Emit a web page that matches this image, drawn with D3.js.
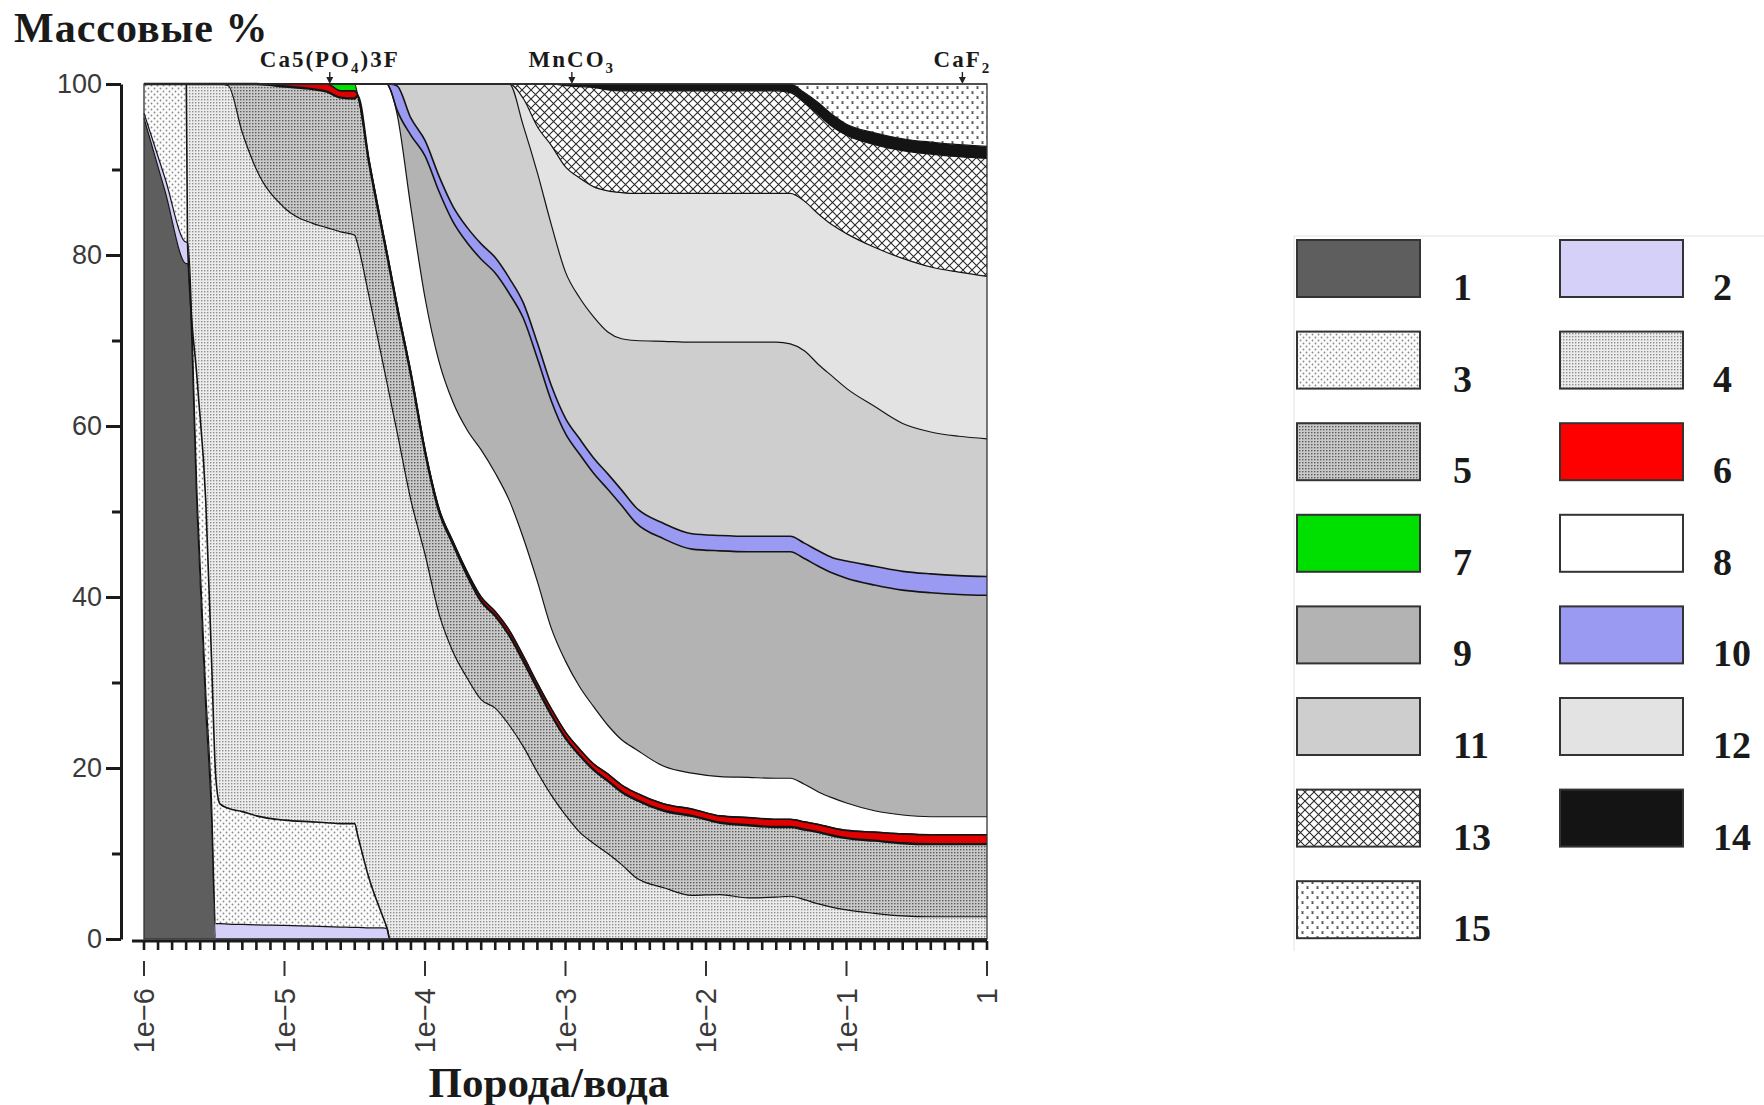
<!DOCTYPE html>
<html><head><meta charset="utf-8">
<script src="https://cdn.jsdelivr.net/npm/d3@7"></script>
<style>body{margin:0;background:#fff}svg{display:block}</style>
</head><body>
<svg id="chart" width="1764" height="1105"></svg>
<script>
// Rock/water ratio (x) sample points
const ratios = [1e-6,1.41e-6,2.0e-6,2.04e-6,2.4e-6,2.75e-6,3.02e-6,3.24e-6,3.47e-6,3.98e-6,
  5.01e-6,6.31e-6,1e-5,1.58e-5,2.0e-5,2.51e-5,3.16e-5,3.31e-5,3.98e-5,5.01e-5,
  5.37e-5,5.62e-5,6.31e-5,7.94e-5,1e-4,1.26e-4,1.58e-4,2.0e-4,2.51e-4,3.16e-4,
  3.98e-4,5.01e-4,6.31e-4,7.94e-4,1e-3,1.26e-3,1.58e-3,2.0e-3,2.51e-3,3.16e-3,
  5.01e-3,7.94e-3,1.26e-2,2.0e-2,3.16e-2,3.98e-2,5.01e-2,6.31e-2,7.94e-2,0.1,
  0.158,0.251,0.398,0.631,1];

// Mass % of each phase (1..15)
const s1 = [96,87.5,79,79,49,27,14.5,0,0,0, 0,0,0,0,0,0,0,0,0,0, 0,0,0,0,0,0,0,0,0,0, 0,0,0,0,0,0,0,0,0,0, 0,0,0,0,0,0,0,0,0,0, 0,0,0,0,0];
const s2 = [0.6,1.5,2.5,2.5,2,2,2,1.8,1.8,1.75, 1.7,1.65,1.6,1.5,1.45,1.4,1.35,1.35,1.3,1.3, 1.25,0,0,0,0,0,0,0,0,0, 0,0,0,0,0,0,0,0,0,0, 0,0,0,0,0,0,0,0,0,0, 0,0,0,0,0];
const s3 = [3.4,11,18.5,0,14,22.3,16.5,17.2,14,13.55, 13.2,12.75,12.3,12.2,12.15,12.1,12.15,10.85,5.9,1.3, 0,0,0,0,0,0,0,0,0,0, 0,0,0,0,0,0,0,0,0,0, 0,0,0,0,0,0,0,0,0,0, 0,0,0,0,0];
const s4 = [0,0,0,18.5,35,48.7,67,81,84.2,84.5, 79.4,75.6,71.6,70,69.6,69.2,68.8,69.1,68.1,64.8, 63.75,63.4,59.4,51.3,45,38,33.6,30.5,28,27, 25,22.5,19.5,16.8,14.5,12.5,11.2,10,8.7,7.2, 6,5.1,5.2,4.8,4.9,5.0,4.6,4.1,3.7,3.4, 3.0,2.7,2.6,2.6,2.6];
const s5 = [0,0,0,0,0,0,0,0,0,0.2, 5.7,10,14.2,15.7,15.9,15.7,16,17.3,15.7,15.1, 15,14.9,14.6,14.7,12,12,12.6,12,11.5,10.8, 10.5,10,9.8,9.4,9,9,8.6,8.5,8.5,9.1, 9,9.3,8.4,8.5,8.2,8.1,8.2,8.4,8.4,8.4, 8.5,8.5,8.5,8.5,8.5];
const s6 = [0,0,0,0,0,0,0,0,0,0, 0,0,0.3,0.6,0.9,0.8,0.9,0.2,0.2,0.2, 0.2,0.2,0.2,0.2,0.2,0.3,0.3,0.4,0.5,0.5, 0.6,0.6,0.6,0.7,0.7,0.7,0.7,0.8,0.8,0.8, 0.8,0.8,0.8,0.9,0.9,0.9,0.9,0.9,0.9,0.9, 1.0,1.1,1.1,1.1,1.1];
const s7 = [0,0,0,0,0,0,0,0,0,0, 0,0,0,0,0,0.8,0.8,0,0,0, 0,0,0,0,0,0,0,0,0,0, 0,0,0,0,0,0,0,0,0,0, 0,0,0,0,0,0,0,0,0,0, 0,0,0,0,0];
const s8 = [0,0,0,0,0,0,0,0,0,0, 0,0,0,0,0,0,0,1.2,8.8,17.3, 19.8,21,22.4,19.3,17.8,17.2,16.3,16.6,17.2,16.2, 15.2,13.8,11.9,9.4,8.3,7.3,6.7,5.7,5.3,5.1, 4.4,4.2,4.6,4.7,4.8,4.8,4.4,3.8,3.5,3.2, 2.5,2.2,2.1,2.1,2.1];
const s9 = [0,0,0,0,0,0,0,0,0,0, 0,0,0,0,0,0,0,0,0,0, 0,0,0.4,8.5,16.6,19.9,21.1,21.9,22.3,23.4, 24.2,25.7,26.1,26.6,26.6,27.2,27.3,27.6,27.4,26.5, 26.6,26.2,26.4,26.4,26.5,26.5,26.4,26.4,26.3,26.3, 26.4,26.3,26.2,26.0,25.9];
const s10 = [0,0,0,0,0,0,0,0,0,0, 0,0,0,0,0,0,0,0,0,0, 0,0.5,2.8,2,1.8,1.8,1.8,1.8,1.8,1.8, 1.8,1.8,1.8,1.8,1.8,1.8,1.8,1.8,1.8,1.8, 1.8,1.8,1.8,1.8,1.8,1.8,1.8,1.8,1.8,2.0, 2.2,2.2,2.2,2.2,2.2];
const s11 = [0,0,0,0,0,0,0,0,0,0, 0,0,0,0,0,0,0,0,0,0, 0,0,0.2,4,6.6,10.8,14.3,16.8,18.7,20.3, 22.7,20.7,19.9,18.8,17.1,16.5,16.5,16.6,17.7,19.5, 21.3,22.4,22.6,22.7,22.7,22.5,22.5,21.8,21.2,20.2, 18.7,17.3,16.6,16.3,16.1];
const s12 = [0,0,0,0,0,0,0,0,0,0, 0,0,0,0,0,0,0,0,0,0, 0,0,0,0,0,0,0,0,0,0, 0,3.2,5.4,9.3,12.3,14,15.2,16.5,17.1,17.2, 17.3,17.4,17.4,17.4,17.4,17.6,17.5,17.6,17.7,18.1, 18.6,19.3,19.3,19.2,19.0];
const s13 = [0,0,0,0,0,0,0,0,0,0, 0,0,0,0,0,0,0,0,0,0, 0,0,0,0,0,0,0,0,0,0, 0,1.7,5,7.2,9.5,10.7,11.6,11.8,11.9,12.0, 12.0,12.0,12.0,12.0,12.0,11.8,11.5,11.6,11.5,11.5, 12.0,12.6,13.2,13.5,13.8];
const s14 = [0,0,0,0,0,0,0,0,0,0, 0,0,0,0,0,0,0,0,0,0, 0,0,0,0,0,0,0,0,0,0, 0,0,0,0,0.2,0.3,0.4,0.7,0.8,0.8, 0.8,0.8,0.8,0.8,0.8,1.0,1.2,1.4,1.4,1.3, 1.4,1.4,1.4,1.4,1.4];
const s15 = [0,0,0,0,0,0,0,0,0,0, 0,0,0,0,0,0,0,0,0,0, 0,0,0,0,0,0,0,0,0,0, 0,0,0,0,0,0,0,0,0,0, 0,0,0,0,0,0,1.0,2.2,3.6,4.7, 5.7,6.4,6.8,7.1,7.3];

const seriesNames = ["1","2","3","4","5","6","7","8","9","10","11","12","13","14","15"];
const seriesValues = [s1,s2,s3,s4,s5,s6,s7,s8,s9,s10,s11,s12,s13,s14,s15];

const yTicksMajor = [0,20,40,60,80,100];
const yTicksMinor = [10,30,50,70,90];
const xTickValues = [1e-6,1e-5,1e-4,1e-3,1e-2,1e-1,1];
const xTickLabels = ["1e\u22126","1e\u22125","1e\u22124","1e\u22123","1e\u22122","1e\u22121","1"];

const annotParts = [
  [["Ca5(PO",false],["4",true],[")3F",false]],
  [["MnCO",false],["3",true]],
  [["CaF",false],["2",true]]
];
const annotAt = [2.1e-5, 1.11e-3, 0.668];

const yTitle = "Массовые %";
const xTitle = "Порода/вода";

// ---------------------------------------------------------------
const svg = d3.select("#chart");
const x = d3.scaleLog().domain([1e-6, 1]).range([144, 987]);
const y = d3.scaleLinear().domain([0, 100]).range([939, 84]);

const defs = svg.append("defs");
function dots(id, size, r, bg, col, stagger) {
  const p = defs.append("pattern").attr("id", id).attr("patternUnits","userSpaceOnUse")
    .attr("width", size).attr("height", size);
  p.append("rect").attr("width", size).attr("height", size).attr("fill", bg);
  p.append("circle").attr("cx", size/4).attr("cy", size/4).attr("r", r).attr("fill", col);
  if (stagger) p.append("circle").attr("cx", size*3/4).attr("cy", size*3/4).attr("r", r).attr("fill", col);
}
dots("p3", 6, 0.9, "#fcfcfc", "#8a8a8a", true);
dots("p4", 3, 0.75, "#ececec", "#7a7a7a", false);
dots("p5", 3, 0.8, "#c9c9c9", "#555", false);
{
  const p = defs.append("pattern").attr("id","p13").attr("patternUnits","userSpaceOnUse")
    .attr("width", 9).attr("height", 9);
  p.append("rect").attr("width",9).attr("height",9).attr("fill","#fff");
  p.append("path").attr("d","M0,0L9,9M9,0L0,9").attr("stroke","#2a2a2a")
    .attr("stroke-width",1.1).attr("stroke-linecap","square");
}
{
  const p = defs.append("pattern").attr("id","p15").attr("patternUnits","userSpaceOnUse")
    .attr("width", 10).attr("height", 10);
  p.append("rect").attr("width",10).attr("height",10).attr("fill","#fff");
  p.append("path").attr("d","M1.5,1.5L3.5,3.5M3.5,1.5L1.5,3.5M6.5,6.5L8.5,8.5M8.5,6.5L6.5,8.5")
    .attr("stroke","#555").attr("stroke-width",1.1);
}
const fills = ["#5e5e5e","#d4d0f8","url(#p3)","url(#p4)","url(#p5)","#e00000","#00e000",
  "#ffffff","#b3b3b3","#9a9af2","#cecece","#e3e3e3","url(#p13)","#141414","url(#p15)"];
const legendFills = fills.slice(); legendFills[5] = "#ff0000";

const rows = ratios.map((r, i) => {
  const o = { ratio: r };
  seriesNames.forEach((k, j) => o[k] = seriesValues[j][i]);
  return o;
});
const stack = d3.stack().keys(seriesNames);
const layers = stack(rows);

const area = d3.area().curve(d3.curveMonotoneX)
  .x(d => x(d.data.ratio)).y0(d => y(d[0])).y1(d => y(d[1]));
const topLine = d3.line().curve(d3.curveMonotoneX)
  .x(d => x(d.data.ratio)).y(d => y(d[1]));

const g = svg.append("g");
g.selectAll("path.area").data(layers).join("path").attr("class","area")
  .attr("d", area).attr("fill", (d, i) => fills[i]);
const lineW = [1.2,1.2,1.6,1.2,2.4,1.6,1.2,1.2,1.6,1.6,1.2,1.2,1.2,1.2,1.2];
g.selectAll("path.bnd").data(layers).join("path").attr("class","bnd")
  .attr("d", topLine).attr("fill","none").attr("stroke","#141414")
  .attr("stroke-width", (d, i) => lineW[i]).attr("stroke-linejoin","round");

// frame
svg.append("rect").attr("x", x(1e-6)).attr("y", y(100))
  .attr("width", x(1) - x(1e-6)).attr("height", y(0) - y(100))
  .attr("fill","none").attr("stroke","#333").attr("stroke-width",1.3);

// Y axis
const yAxisG = svg.append("g").attr("transform","translate(121,0)")
  .call(d3.axisLeft(y).tickValues(yTicksMajor).tickSize(15).tickSizeOuter(0).tickPadding(4));
svg.append("g").attr("transform","translate(121,0)")
  .call(d3.axisLeft(y).tickValues(yTicksMinor).tickSize(9).tickSizeOuter(0).tickFormat(""))
  .select(".domain").remove();
svg.selectAll(".tick line").attr("stroke","#1a1a1a").attr("stroke-width",3);
yAxisG.select(".domain").attr("stroke","#1a1a1a").attr("stroke-width",3);
yAxisG.selectAll(".tick text").attr("font-family","Liberation Sans, Arial, sans-serif")
  .attr("font-size",27).attr("fill","#3a3a3a");

// X axis
const xa = svg.append("g");
xa.append("line").attr("x1", x(1e-6) - 12).attr("x2", x(1)).attr("y1", 941).attr("y2", 941)
  .attr("stroke","#1a1a1a").attr("stroke-width",3);
const minorX = d3.range(0, 61).map(i => Math.pow(10, -6 + i / 10));
xa.selectAll("line.mt").data(minorX).join("line").attr("class","mt")
  .attr("x1", d => x(d)).attr("x2", d => x(d)).attr("y1", 941).attr("y2", 950)
  .attr("stroke","#1a1a1a").attr("stroke-width",2.6);
xa.selectAll("line.Mt").data(xTickValues).join("line").attr("class","Mt")
  .attr("x1", d => x(d)).attr("x2", d => x(d)).attr("y1", 961).attr("y2", 976)
  .attr("stroke","#333").attr("stroke-width",2);
xa.selectAll("text").data(xTickValues).join("text")
  .attr("transform", d => `translate(${x(d)},988) rotate(-90)`)
  .attr("text-anchor","end").attr("dy","0.36em")
  .attr("font-family","Liberation Sans, Arial, sans-serif").attr("font-size",29).attr("fill","#3a3a3a")
  .text((d, i) => xTickLabels[i]);

// Titles
svg.append("text").attr("x", 14).attr("y", 42).text(yTitle)
  .attr("font-family","Liberation Serif, Times New Roman, serif").attr("font-weight","bold")
  .attr("font-size",42).attr("letter-spacing",1).attr("fill","#1a1a1a");
svg.append("text").attr("x", 549).attr("y", 1097).attr("text-anchor","middle").text(xTitle)
  .attr("font-family","Liberation Serif, Times New Roman, serif").attr("font-weight","bold")
  .attr("font-size",43).attr("fill","#1a1a1a");

// Annotations with arrows
annotAt.forEach((v, i) => {
  const t = svg.append("text").attr("x", x(v)).attr("y", 67).attr("text-anchor","middle")
    .attr("font-family","Liberation Serif, Times New Roman, serif").attr("font-weight","bold")
    .attr("font-size",23).attr("letter-spacing",2).attr("fill","#1a1a1a");
  let shifted = false;
  annotParts[i].forEach(([txt, sub]) => {
    const ts = t.append("tspan").text(txt);
    if (sub && !shifted) { ts.attr("dy", 6).attr("font-size", 15); shifted = true; }
    else if (!sub && shifted) { ts.attr("dy", -6); shifted = false; }
  });
  svg.append("line").attr("x1", x(v)).attr("x2", x(v)).attr("y1", 72).attr("y2", y(100) - 4)
    .attr("stroke","#222").attr("stroke-width",1.4);
  svg.append("path").attr("d", `M${x(v)-3.5},${y(100)-7}L${x(v)+3.5},${y(100)-7}L${x(v)},${y(100)}Z`)
    .attr("fill","#222");
});

// Legend
const lg = svg.append("g");
lg.append("line").attr("x1",1294).attr("x2",1764).attr("y1",236).attr("y2",236).attr("stroke","#e2e2e2");
lg.append("line").attr("x1",1294).attr("x2",1294).attr("y1",236).attr("y2",951).attr("stroke","#e2e2e2");
const colX = [1297, 1560], labX = [1453, 1713];
seriesNames.forEach((name, i) => {
  const c = i % 2, r = Math.floor(i / 2);
  const top = 240 + r * 91.6;
  lg.append("rect").attr("x", colX[c]).attr("y", top).attr("width", 123).attr("height", 57)
    .attr("fill", legendFills[i]).attr("stroke","#333").attr("stroke-width",2);
  lg.append("text").attr("x", labX[c]).attr("y", top + 60).text(name)
    .attr("font-family","Liberation Serif, Times New Roman, serif").attr("font-weight","bold")
    .attr("font-size",38).attr("fill","#1a1a1a");
});
</script>
</body></html>
